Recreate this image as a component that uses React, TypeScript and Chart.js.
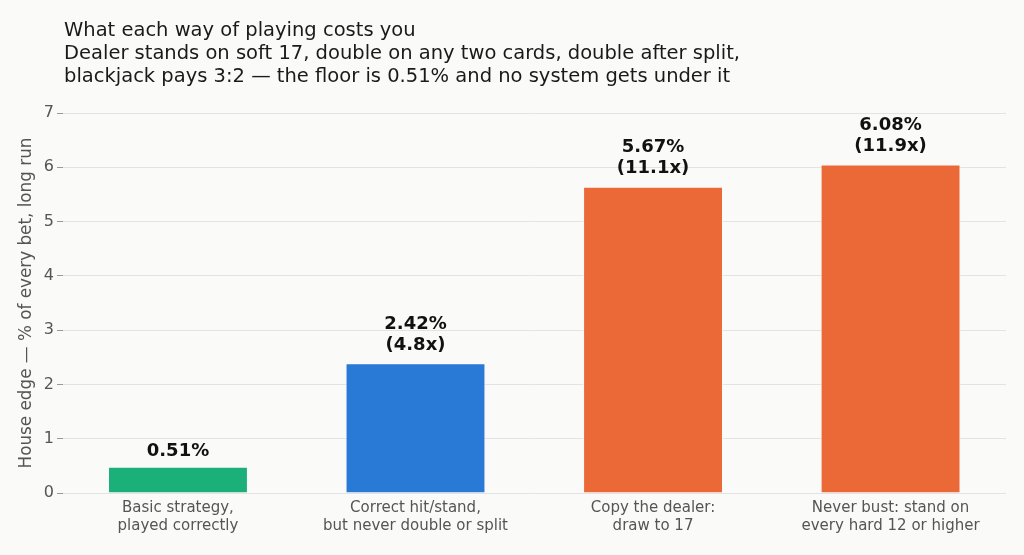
import React, { useEffect, useRef } from "react";
import { Chart, registerables } from "chart.js";

Chart.register(...registerables);

const titleLines = [
  "What each way of playing costs you",
  "Dealer stands on soft 17, double on any two cards, double after split,",
  "blackjack pays 3:2 — the floor is 0.51% and no system gets under it",
];

const categories = [
  ["Basic strategy,", "played correctly"],
  ["Correct hit/stand,", "but never double or split"],
  ["Copy the dealer:", "draw to 17"],
  ["Never bust: stand on", "every hard 12 or higher"],
];

const houseEdge = [0.51, 2.42, 5.67, 6.08];

const valueLabels = [
  ["0.51%"],
  ["2.42%", "(4.8x)"],
  ["5.67%", "(11.1x)"],
  ["6.08%", "(11.9x)"],
];

const barColors = ["#1bb07a", "#2979d6", "#eb6837", "#eb6837"];

const yAxisTitle = "House edge — % of every bet, long run";
const yMin = 0;
const yMax = 7;
const xMin = -0.484;
const xMax = 3.486;

const FONT = "'DejaVu Sans'";

export default function App() {
  const ref = useRef<HTMLCanvasElement | null>(null);

  useEffect(() => {
    let chart: any = null;
    let cancelled = false;

    const titlePlugin = {
      id: "titleLines",
      afterDraw(c: any) {
        const ctx = c.ctx;
        ctx.save();
        ctx.font = `19.5px ${FONT}`;
        ctx.fillStyle = "#1a1a1a";
        ctx.textAlign = "left";
        ctx.textBaseline = "alphabetic";
        titleLines.forEach((line, i) => {
          ctx.fillText(line, 64, 36 + i * 22.9);
        });
        ctx.restore();
      },
    };

    const valuePlugin = {
      id: "valueLabels",
      afterDatasetsDraw(c: any) {
        const ctx = c.ctx;
        const meta = c.getDatasetMeta(0);
        const yScale = c.scales.y;
        ctx.save();
        ctx.font = `bold 18px ${FONT}`;
        ctx.fillStyle = "#111111";
        ctx.textAlign = "center";
        ctx.textBaseline = "alphabetic";
        meta.data.forEach((bar: any, i: number) => {
          const lines = valueLabels[i];
          const n = lines.length;
          const top = yScale.getPixelForValue(houseEdge[i]);
          const gap = n > 1 ? 12 : 9.5;
          lines.forEach((line, j) => {
            const y = top - gap - (n - 1 - j) * 21;
            ctx.fillText(line, bar.x, y);
          });
        });
        ctx.restore();
      },
    };

    const build = () => {
      if (cancelled || !ref.current) return;
      chart = new Chart(ref.current, {
        type: "bar",
        data: {
          datasets: [
            {
              data: houseEdge.map((v, i) => ({ x: i, y: v })),
              backgroundColor: barColors,
              borderColor: "rgba(250,250,249,0.75)",
              borderWidth: { top: 2.5, left: 1, right: 1, bottom: 0 },
              borderSkipped: "start",
              categoryPercentage: 1,
              barPercentage: 0.589,
            },
          ],
        },
        options: {
          responsive: false,
          animation: false,
          layout: { padding: { top: 113, right: 18, bottom: 0, left: 0 } },
          plugins: {
            legend: { display: false },
            title: { display: false },
            tooltip: { enabled: false },
          },
          scales: {
            x: {
              type: "linear",
              min: xMin,
              max: xMax,
              offset: false,
              grid: { display: false, drawTicks: false },
              border: { display: false },
              afterBuildTicks(scale: any) {
                scale.ticks = categories.map((_, i) => ({ value: i }));
              },
              ticks: {
                color: "#555555",
                font: { family: FONT, size: 15, lineHeight: 1.2 },
                padding: 6,
                maxRotation: 0,
                autoSkip: false,
                callback: (value: any) => categories[Math.round(Number(value))],
              },
              afterFit(scale: any) {
                scale.height = 62;
              },
            },
            y: {
              min: yMin,
              max: yMax,
              grid: {
                color: "#e3e3e3",
                lineWidth: 1,
                drawTicks: true,
                tickLength: 6,
                tickColor: "#9a9a9a",
              },
              border: { display: false },
              ticks: {
                stepSize: 1,
                color: "#555555",
                font: { family: FONT, size: 16 },
                padding: 3,
              },
              title: {
                display: true,
                text: yAxisTitle,
                color: "#555555",
                font: { family: FONT, size: 16.8 },
                padding: { top: 17, bottom: 0 },
              },
              afterFit(scale: any) {
                scale.width = 63;
              },
            },
          },
        },
        plugins: [titlePlugin, valuePlugin],
      });
    };

    const fonts: any = (document as any).fonts;
    if (fonts && fonts.load) {
      Promise.all([
        fonts.load(`16px 'DejaVu Sans'`),
        fonts.load(`bold 16px 'DejaVu Sans'`),
      ])
        .catch(() => null)
        .then(build);
    } else {
      build();
    }

    return () => {
      cancelled = true;
      if (chart) chart.destroy();
    };
  }, []);

  return (
    <div
      style={{
        position: "absolute",
        left: 0,
        top: 0,
        width: 1024,
        height: 555,
        background: "#fafaf9",
        fontFamily: "'DejaVu Sans'",
      }}
    >
      <canvas ref={ref} width={1024} height={555} />
    </div>
  );
}
